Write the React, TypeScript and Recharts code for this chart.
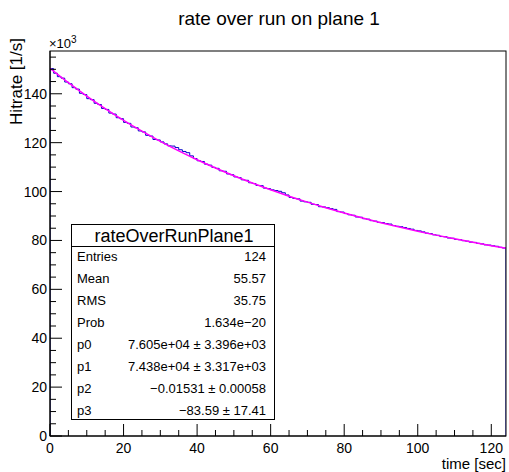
import React from 'react';
import { ComposedChart, Line, XAxis, YAxis } from 'recharts';

// histogram bin contents (thousands of 1/s), bins of 1 sec from 0 to 124
const histValuesK = [
  150.3, 148.4, 147.0, 146.4, 144.8,
  144.1, 142.5, 141.9, 140.2, 139.7,
  138.0, 137.6, 136.1, 135.6, 134.0,
  133.6, 132.1, 131.7, 130.2, 129.8,
  128.3, 127.9, 126.4, 126.1, 124.8,
  124.4, 123.0, 122.7, 121.3, 121.1,
  120.3, 119.5, 118.7, 118.6, 118.0,
  117.1, 116.4, 115.9, 114.6, 113.5,
  112.6, 112.3, 111.2, 110.8, 109.9,
  109.5, 108.5, 108.3, 107.2, 106.9,
  106.0, 105.7, 104.8, 104.6, 103.6,
  103.3, 102.5, 102.4, 101.4, 101.2,
  100.7, 100.4, 100.1, 99.5, 98.6,
  97.6, 97.2, 97.0, 96.1, 95.8,
  95.6, 94.8, 94.7, 93.8, 93.7,
  93.4, 93.0, 92.7, 91.8, 91.6,
  91.0, 90.5, 90.3, 89.6, 89.5,
  88.9, 88.7, 88.1, 87.9, 87.4,
  87.3, 86.9, 86.7, 86.1, 85.8,
  85.6, 85.3, 84.9, 84.6, 84.1,
  83.9, 83.5, 83.0, 82.8, 82.3,
  82.1, 81.6, 81.5, 81.0, 80.9,
  80.4, 80.3, 79.9, 79.7, 79.3,
  79.2, 78.8, 78.6, 78.2, 78.1,
  77.8, 77.6, 77.2, 76.9,
];

// fit curve read at these times (sec) -> values (thousands)
const fitTimes = [0, 5, 10, 15, 20, 25, 30, 35, 40, 45, 50, 55, 60, 65, 70, 75, 80, 85, 90, 95, 100, 105, 110, 115, 120, 124];
const fitValuesK = [150.43, 144.53, 139.04, 133.91, 129.14, 124.69, 120.53, 116.65, 113.02, 109.64, 106.47, 103.5, 100.72, 98.11, 95.67, 93.37, 91.22, 89.19, 87.28, 85.48, 83.78, 82.18, 80.66, 79.23, 77.87, 76.83];

const xTicks = [0, 5, 10, 15, 20, 25, 30, 35, 40, 45, 50, 55, 60, 65, 70, 75, 80, 85, 90, 95, 100, 105, 110, 115, 120];
const yTicks = [0, 5000, 10000, 15000, 20000, 25000, 30000, 35000, 40000, 45000, 50000, 55000, 60000, 65000, 70000, 75000, 80000, 85000, 90000, 95000, 100000, 105000, 110000, 115000, 120000, 125000, 130000, 135000, 140000, 145000, 150000, 155000];

const statsTitle = 'rateOverRunPlane1';
const statsLabels = ['Entries', 'Mean', 'RMS', 'Prob', 'p0', 'p1', 'p2', 'p3'];
const statsValues = ['124', '55.57', '35.75', '1.634e\u221220', '7.605e+04 \u00b1 3.396e+03', '7.438e+04 \u00b1 3.317e+03', '\u22120.01531 \u00b1 0.00058', '\u221283.59 \u00b1 17.41'];

const histData = [
  { x: 0, h: 0 },
  ...histValuesK.map((v, i) => ({ x: i, h: v * 1000 })),
  { x: histValuesK.length, h: histValuesK[histValuesK.length - 1] * 1000 },
  { x: histValuesK.length, h: 0 },
];
const fitData = fitTimes.map((t, i) => ({ x: t, f: fitValuesK[i] * 1000 }));

const FONT = 'Liberation Sans, Arial, Helvetica, sans-serif';

const XTick = (props: any) => {
  const { x, y, payload } = props;
  const v = payload.value as number;
  const major = v % 20 === 0;
  return (
    <g>
      <line x1={x} y1={y} x2={x} y2={y - (major ? 12 : 6)} stroke="#000" strokeWidth={1} />
      {major && (
        <text x={x} y={y + 17} textAnchor="middle" fontSize={14} fontFamily={FONT} fill="#000">
          {v}
        </text>
      )}
    </g>
  );
};

const YTick = (props: any) => {
  const { x, y, payload } = props;
  const v = payload.value as number;
  const major = v % 20000 === 0;
  return (
    <g>
      <line x1={x} y1={y} x2={x + (major ? 12 : 6)} y2={y} stroke="#000" strokeWidth={1} />
      {major && (
        <text x={x - 3} y={y + 5} textAnchor="end" fontSize={14} fontFamily={FONT} fill="#000">
          {v / 1000}
        </text>
      )}
    </g>
  );
};

export default function App() {
  const rowY0 = 256;
  const rowStep = 22;
  return (
    <div style={{ position: 'absolute', left: 0, top: 0, width: 509, height: 472, background: '#fff' }}>
      <ComposedChart width={509} height={472} margin={{ top: 51, right: 3, left: 0, bottom: 0 }}>
        <XAxis
          type="number"
          dataKey="x"
          domain={[0, 124]}
          ticks={xTicks}
          interval={0}
          allowDataOverflow
          height={36}
          tickSize={0}
          tickMargin={0}
          tickLine={false}
          axisLine={{ stroke: '#000' }}
          tick={<XTick />}
        />
        <YAxis
          type="number"
          domain={[0, 157500]}
          ticks={yTicks}
          interval={0}
          allowDataOverflow
          width={50}
          tickSize={0}
          tickMargin={0}
          tickLine={false}
          axisLine={{ stroke: '#000' }}
          tick={<YTick />}
        />
        <Line
          data={histData}
          dataKey="h"
          type="stepAfter"
          stroke="#0000c8"
          strokeWidth={1}
          dot={false}
          isAnimationActive={false}
        />
        <Line
          data={fitData}
          dataKey="f"
          type="monotone"
          stroke="#ff00ff"
          strokeWidth={1.5}
          dot={false}
          isAnimationActive={false}
        />
      </ComposedChart>
      <svg width={509} height={472} style={{ position: 'absolute', left: 0, top: 0, pointerEvents: 'none' }}>
        <rect x={50} y={51} width={456} height={385} fill="none" stroke="#000" strokeWidth={1} />
        <text x={279} y={25} textAnchor="middle" fontSize={19} fontFamily={FONT} fill="#000">
          rate over run on plane 1
        </text>
        <text x={49} y={48} fontSize={13} fontFamily={FONT} fill="#000">
          ×10
          <tspan fontSize={10} dy={-5}>3</tspan>
        </text>
        <text
          x={0}
          y={0}
          transform="translate(22,38) rotate(-90)"
          textAnchor="end"
          fontSize={17}
          fontFamily={FONT}
          fill="#000"
        >
          Hitrate [1/s]
        </text>
        <text x={506} y={469} textAnchor="end" fontSize={15} fontFamily={FONT} fill="#000">
          time [sec]
        </text>
        <rect x={71.5} y={224.5} width={203} height={195} fill="#fff" stroke="#000" strokeWidth={1} />
        <line x1={71.5} y1={246.5} x2={274.5} y2={246.5} stroke="#000" strokeWidth={1} />
        <text x={174} y={242} textAnchor="middle" fontSize={18} fontFamily={FONT} fill="#000">
          {statsTitle}
        </text>
        {statsLabels.map((l, i) => (
          <text key={l} x={77} y={rowY0 + i * rowStep + 5} fontSize={13} fontFamily={FONT} fill="#000">
            {l}
          </text>
        ))}
        {statsValues.map((v, i) => (
          <text key={i} x={266} y={rowY0 + i * rowStep + 5} textAnchor="end" fontSize={13} fontFamily={FONT} fill="#000">
            {v}
          </text>
        ))}
      </svg>
    </div>
  );
}
